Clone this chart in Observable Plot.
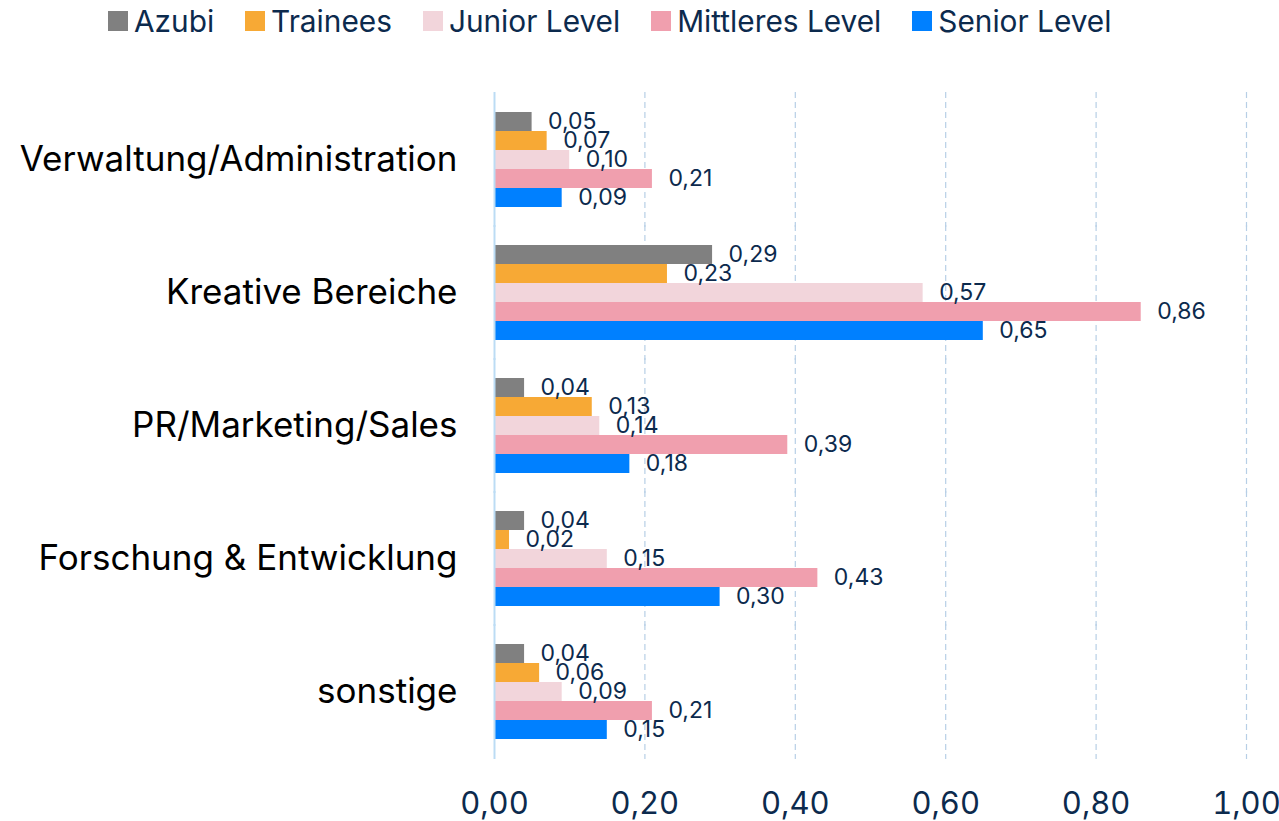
<!DOCTYPE html>
<html><head><meta charset="utf-8">
<script src="https://cdn.jsdelivr.net/npm/d3@7"></script>
<script src="https://cdn.jsdelivr.net/npm/@observablehq/plot@0.6"></script>
<style>
html,body{margin:0;padding:0;background:#fff;}
body{width:1279px;height:821px;overflow:hidden;font-family:Inter,"Noto Sans",sans-serif;color:#0c2a4d;}
#legend{height:50px;display:flex;align-items:flex-start;padding-top:4px;justify-content:flex-start;padding-left:108px;box-sizing:border-box;font-size:29.8px;line-height:34px;}
.item{display:flex;align-items:center;margin-right:31px;}
.sw{width:20px;height:20px;margin-right:6px;}
</style></head>
<body>
<div id="legend"></div>
<div id="chart"></div>
<script>
const categories = ["Verwaltung/Administration","Kreative Bereiche","PR/Marketing/Sales","Forschung & Entwicklung","sonstige"];
const series = ["Azubi","Trainees","Junior Level","Mittleres Level","Senior Level"];
const colors = ["#808080","#f7a935","#f2d5db","#f09fae","#0080ff"];
const azubi    = [0.05,0.29,0.04,0.04,0.04];
const trainees = [0.07,0.23,0.13,0.02,0.06];
const junior   = [0.10,0.57,0.14,0.15,0.09];
const mittel   = [0.21,0.86,0.39,0.43,0.21];
const senior   = [0.09,0.65,0.18,0.30,0.15];
const xTicks = [0,0.2,0.4,0.6,0.8,1.0];

const valuesBySeries = [azubi,trainees,junior,mittel,senior];
const data = [];
categories.forEach((c,i)=>series.forEach((s,j)=>data.push({cat:c,ser:s,val:valuesBySeries[j][i]})));
const fmt = v => v.toFixed(2).replace(".",",");

const leg = document.getElementById("legend");
series.forEach((s,j)=>{
  const it=document.createElement("div");it.className="item";
  it.innerHTML=`<span class="sw" style="background:${colors[j]}"></span><span>${s}</span>`;
  leg.appendChild(it);
});

const navy="#0c2a4d";
const chart = Plot.plot({
  width:1279, height:771,
  marginTop:42, marginBottom:61, marginLeft:494, marginRight:33,
  style:{fontFamily:"Inter, 'Noto Sans', sans-serif", color:navy, background:"#fff", overflow:"visible"},
  x:{domain:[0,1], ticks:xTicks, tickFormat:fmt, label:null},
  fy:{domain:categories, paddingInner:0.27, paddingOuter:0.14, label:null},
  y:{domain:series, padding:0, axis:null},
  color:{domain:series, range:colors},
  marks:[
    Plot.ruleX(xTicks.slice(1), {stroke:"#b7cfe6", strokeDasharray:"6,4", strokeWidth:1.2, insetTop:-19, insetBottom:-19}),
    Plot.barX(data, {fy:"cat", y:"ser", x:"val", fill:"ser"}),
    Plot.ruleX([0], {stroke:"#bcdcf4", strokeWidth:2, insetTop:-19, insetBottom:-19}),
    Plot.text(data, {fy:"cat", y:"ser", x:"val", text:d=>fmt(d.val), dx:16, textAnchor:"start", fontSize:23, fill:navy}),
    Plot.axisX({ticks:xTicks, tickFormat:fmt, tickSize:0, tickPadding:51, fontSize:31, fill:navy, label:null}),
    Plot.axisFy({anchor:"left", tickSize:0, tickPadding:37, fontSize:35, fill:"#000", label:null})
  ]
});
document.getElementById("chart").appendChild(chart);
</script>
</body></html>
